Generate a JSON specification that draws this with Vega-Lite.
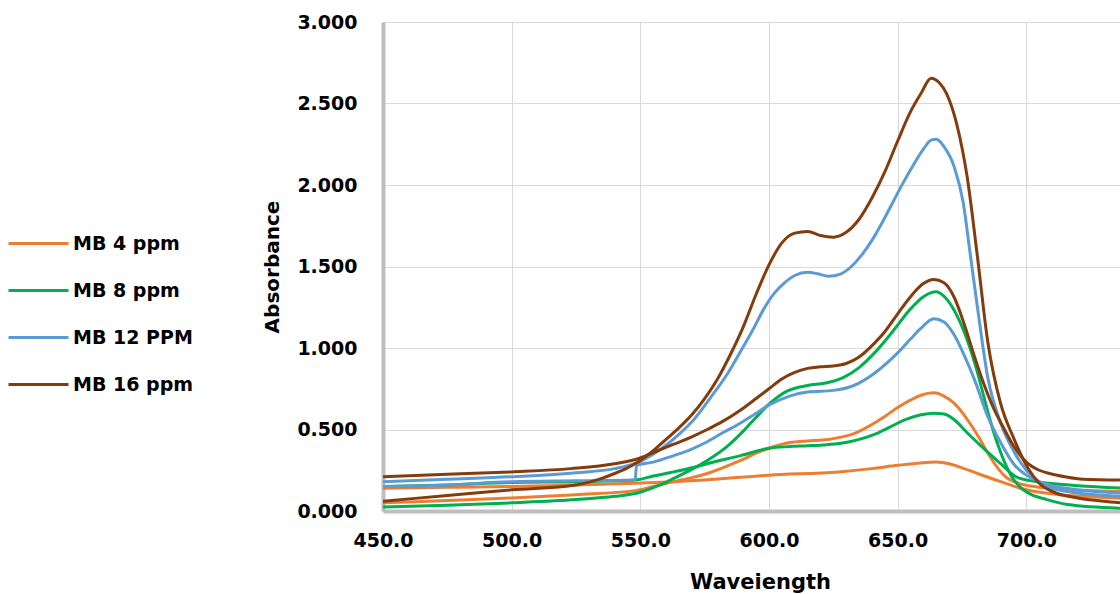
{
  "$schema": "https://vega.github.io/schema/vega-lite/v6.json",
  "width": 737,
  "height": 489,
  "autosize": {"type": "none"},
  "padding": {"left": 383, "top": 22, "right": 0, "bottom": 83},
  "background": "white",
  "config": {
    "view": {"stroke": "#d9d9d9", "strokeWidth": 1},
    "font": "DejaVu Sans"
  },
  "datasets": {
    "spectra": [
      {"s":"MB 4 ppm","r":"a","w":450,"a":0.05},{"s":"MB 4 ppm","r":"a","w":475,"a":0.065},{"s":"MB 4 ppm","r":"a","w":500,"a":0.08},{"s":"MB 4 ppm","r":"a","w":525,"a":0.10},{"s":"MB 4 ppm","r":"a","w":548,"a":0.125},{"s":"MB 4 ppm","r":"a","w":555,"a":0.15},{"s":"MB 4 ppm","r":"a","w":563,"a":0.18},{"s":"MB 4 ppm","r":"a","w":570,"a":0.205},{"s":"MB 4 ppm","r":"a","w":576,"a":0.23},{"s":"MB 4 ppm","r":"a","w":582,"a":0.265},{"s":"MB 4 ppm","r":"a","w":589,"a":0.31},{"s":"MB 4 ppm","r":"a","w":595,"a":0.355},{"s":"MB 4 ppm","r":"a","w":600,"a":0.385},{"s":"MB 4 ppm","r":"a","w":608,"a":0.42},{"s":"MB 4 ppm","r":"a","w":615,"a":0.43},{"s":"MB 4 ppm","r":"a","w":621,"a":0.435},{"s":"MB 4 ppm","r":"a","w":627,"a":0.45},{"s":"MB 4 ppm","r":"a","w":633,"a":0.475},{"s":"MB 4 ppm","r":"a","w":641,"a":0.54},{"s":"MB 4 ppm","r":"a","w":645,"a":0.58},{"s":"MB 4 ppm","r":"a","w":650,"a":0.635},{"s":"MB 4 ppm","r":"a","w":655,"a":0.68},{"s":"MB 4 ppm","r":"a","w":659,"a":0.71},{"s":"MB 4 ppm","r":"a","w":664,"a":0.725},{"s":"MB 4 ppm","r":"a","w":668,"a":0.705},{"s":"MB 4 ppm","r":"a","w":672,"a":0.66},{"s":"MB 4 ppm","r":"a","w":678,"a":0.54},{"s":"MB 4 ppm","r":"a","w":682,"a":0.44},{"s":"MB 4 ppm","r":"a","w":686,"a":0.33},{"s":"MB 4 ppm","r":"a","w":692,"a":0.21},{"s":"MB 4 ppm","r":"a","w":697,"a":0.17},{"s":"MB 4 ppm","r":"a","w":703,"a":0.15},{"s":"MB 4 ppm","r":"a","w":715,"a":0.13},{"s":"MB 4 ppm","r":"a","w":725,"a":0.125},{"s":"MB 4 ppm","r":"a","w":737,"a":0.12},

      {"s":"MB 4 ppm","r":"b","w":450,"a":0.14},{"s":"MB 4 ppm","r":"b","w":475,"a":0.145},{"s":"MB 4 ppm","r":"b","w":500,"a":0.15},{"s":"MB 4 ppm","r":"b","w":525,"a":0.16},{"s":"MB 4 ppm","r":"b","w":548,"a":0.17},{"s":"MB 4 ppm","r":"b","w":575,"a":0.19},{"s":"MB 4 ppm","r":"b","w":600,"a":0.22},{"s":"MB 4 ppm","r":"b","w":627,"a":0.24},{"s":"MB 4 ppm","r":"b","w":640,"a":0.26},{"s":"MB 4 ppm","r":"b","w":650,"a":0.28},{"s":"MB 4 ppm","r":"b","w":659,"a":0.295},{"s":"MB 4 ppm","r":"b","w":665,"a":0.30},{"s":"MB 4 ppm","r":"b","w":670,"a":0.29},{"s":"MB 4 ppm","r":"b","w":675,"a":0.265},{"s":"MB 4 ppm","r":"b","w":681,"a":0.23},{"s":"MB 4 ppm","r":"b","w":690,"a":0.18},{"s":"MB 4 ppm","r":"b","w":700,"a":0.13},{"s":"MB 4 ppm","r":"b","w":713,"a":0.10},{"s":"MB 4 ppm","r":"b","w":725,"a":0.088},{"s":"MB 4 ppm","r":"b","w":737,"a":0.078},

      {"s":"MB 8 ppm","r":"a","w":450,"a":0.025},{"s":"MB 8 ppm","r":"a","w":475,"a":0.035},{"s":"MB 8 ppm","r":"a","w":500,"a":0.05},{"s":"MB 8 ppm","r":"a","w":525,"a":0.07},{"s":"MB 8 ppm","r":"a","w":540,"a":0.09},{"s":"MB 8 ppm","r":"a","w":550,"a":0.115},{"s":"MB 8 ppm","r":"a","w":557,"a":0.155},{"s":"MB 8 ppm","r":"a","w":563,"a":0.20},{"s":"MB 8 ppm","r":"a","w":570,"a":0.255},{"s":"MB 8 ppm","r":"a","w":576,"a":0.31},{"s":"MB 8 ppm","r":"a","w":584,"a":0.40},{"s":"MB 8 ppm","r":"a","w":590,"a":0.49},{"s":"MB 8 ppm","r":"a","w":595,"a":0.575},{"s":"MB 8 ppm","r":"a","w":600,"a":0.655},{"s":"MB 8 ppm","r":"a","w":607,"a":0.735},{"s":"MB 8 ppm","r":"a","w":615,"a":0.77},{"s":"MB 8 ppm","r":"a","w":622,"a":0.785},{"s":"MB 8 ppm","r":"a","w":629,"a":0.82},{"s":"MB 8 ppm","r":"a","w":635,"a":0.88},{"s":"MB 8 ppm","r":"a","w":641,"a":0.97},{"s":"MB 8 ppm","r":"a","w":648,"a":1.10},{"s":"MB 8 ppm","r":"a","w":655,"a":1.24},{"s":"MB 8 ppm","r":"a","w":660,"a":1.315},{"s":"MB 8 ppm","r":"a","w":665,"a":1.345},{"s":"MB 8 ppm","r":"a","w":669,"a":1.30},{"s":"MB 8 ppm","r":"a","w":673,"a":1.20},{"s":"MB 8 ppm","r":"a","w":677,"a":1.05},{"s":"MB 8 ppm","r":"a","w":681,"a":0.85},{"s":"MB 8 ppm","r":"a","w":684,"a":0.67},{"s":"MB 8 ppm","r":"a","w":687,"a":0.50},{"s":"MB 8 ppm","r":"a","w":690,"a":0.36},{"s":"MB 8 ppm","r":"a","w":694,"a":0.22},{"s":"MB 8 ppm","r":"a","w":698,"a":0.14},{"s":"MB 8 ppm","r":"a","w":702,"a":0.10},{"s":"MB 8 ppm","r":"a","w":708,"a":0.07},{"s":"MB 8 ppm","r":"a","w":716,"a":0.04},{"s":"MB 8 ppm","r":"a","w":737,"a":0.017},

      {"s":"MB 8 ppm","r":"b","w":450,"a":0.15},{"s":"MB 8 ppm","r":"b","w":475,"a":0.16},{"s":"MB 8 ppm","r":"b","w":500,"a":0.175},{"s":"MB 8 ppm","r":"b","w":525,"a":0.18},{"s":"MB 8 ppm","r":"b","w":548,"a":0.19},{"s":"MB 8 ppm","r":"b","w":555,"a":0.215},{"s":"MB 8 ppm","r":"b","w":563,"a":0.24},{"s":"MB 8 ppm","r":"b","w":570,"a":0.265},{"s":"MB 8 ppm","r":"b","w":576,"a":0.29},{"s":"MB 8 ppm","r":"b","w":589,"a":0.34},{"s":"MB 8 ppm","r":"b","w":600,"a":0.385},{"s":"MB 8 ppm","r":"b","w":608,"a":0.395},{"s":"MB 8 ppm","r":"b","w":615,"a":0.40},{"s":"MB 8 ppm","r":"b","w":621,"a":0.405},{"s":"MB 8 ppm","r":"b","w":628,"a":0.415},{"s":"MB 8 ppm","r":"b","w":634,"a":0.435},{"s":"MB 8 ppm","r":"b","w":641,"a":0.47},{"s":"MB 8 ppm","r":"b","w":647,"a":0.515},{"s":"MB 8 ppm","r":"b","w":653,"a":0.56},{"s":"MB 8 ppm","r":"b","w":659,"a":0.59},{"s":"MB 8 ppm","r":"b","w":664,"a":0.60},{"s":"MB 8 ppm","r":"b","w":668,"a":0.595},{"s":"MB 8 ppm","r":"b","w":672,"a":0.56},{"s":"MB 8 ppm","r":"b","w":677,"a":0.48},{"s":"MB 8 ppm","r":"b","w":683,"a":0.39},{"s":"MB 8 ppm","r":"b","w":690,"a":0.29},{"s":"MB 8 ppm","r":"b","w":696,"a":0.21},{"s":"MB 8 ppm","r":"b","w":702,"a":0.185},{"s":"MB 8 ppm","r":"b","w":709,"a":0.17},{"s":"MB 8 ppm","r":"b","w":720,"a":0.155},{"s":"MB 8 ppm","r":"b","w":737,"a":0.14},

      {"s":"MB 12 PPM","r":"a","w":450,"a":0.18},{"s":"MB 12 PPM","r":"a","w":475,"a":0.195},{"s":"MB 12 PPM","r":"a","w":500,"a":0.21},{"s":"MB 12 PPM","r":"a","w":525,"a":0.235},{"s":"MB 12 PPM","r":"a","w":540,"a":0.26},{"s":"MB 12 PPM","r":"a","w":550,"a":0.305},{"s":"MB 12 PPM","r":"a","w":558,"a":0.38},{"s":"MB 12 PPM","r":"a","w":565,"a":0.47},{"s":"MB 12 PPM","r":"a","w":571,"a":0.565},{"s":"MB 12 PPM","r":"a","w":577,"a":0.69},{"s":"MB 12 PPM","r":"a","w":584,"a":0.845},{"s":"MB 12 PPM","r":"a","w":589,"a":0.98},{"s":"MB 12 PPM","r":"a","w":594,"a":1.12},{"s":"MB 12 PPM","r":"a","w":598,"a":1.24},{"s":"MB 12 PPM","r":"a","w":602,"a":1.335},{"s":"MB 12 PPM","r":"a","w":606,"a":1.40},{"s":"MB 12 PPM","r":"a","w":610,"a":1.445},{"s":"MB 12 PPM","r":"a","w":615,"a":1.465},{"s":"MB 12 PPM","r":"a","w":619,"a":1.455},{"s":"MB 12 PPM","r":"a","w":623,"a":1.44},{"s":"MB 12 PPM","r":"a","w":628,"a":1.455},{"s":"MB 12 PPM","r":"a","w":632,"a":1.50},{"s":"MB 12 PPM","r":"a","w":636,"a":1.57},{"s":"MB 12 PPM","r":"a","w":640,"a":1.66},{"s":"MB 12 PPM","r":"a","w":644,"a":1.77},{"s":"MB 12 PPM","r":"a","w":648,"a":1.89},{"s":"MB 12 PPM","r":"a","w":652,"a":2.01},{"s":"MB 12 PPM","r":"a","w":656,"a":2.12},{"s":"MB 12 PPM","r":"a","w":660,"a":2.22},{"s":"MB 12 PPM","r":"a","w":663,"a":2.275},{"s":"MB 12 PPM","r":"a","w":665,"a":2.28},{"s":"MB 12 PPM","r":"a","w":668,"a":2.235},{"s":"MB 12 PPM","r":"a","w":672,"a":2.11},{"s":"MB 12 PPM","r":"a","w":675.5,"a":1.89},{"s":"MB 12 PPM","r":"a","w":678,"a":1.60},{"s":"MB 12 PPM","r":"a","w":681,"a":1.25},{"s":"MB 12 PPM","r":"a","w":685,"a":0.82},{"s":"MB 12 PPM","r":"a","w":690,"a":0.54},{"s":"MB 12 PPM","r":"a","w":695,"a":0.37},{"s":"MB 12 PPM","r":"a","w":700,"a":0.25},{"s":"MB 12 PPM","r":"a","w":705,"a":0.18},{"s":"MB 12 PPM","r":"a","w":710,"a":0.14},{"s":"MB 12 PPM","r":"a","w":720,"a":0.11},{"s":"MB 12 PPM","r":"a","w":737,"a":0.09},

      {"s":"MB 12 PPM","r":"b","w":450,"a":0.15},{"s":"MB 12 PPM","r":"b","w":475,"a":0.16},{"s":"MB 12 PPM","r":"b","w":500,"a":0.18},{"s":"MB 12 PPM","r":"b","w":525,"a":0.185},{"s":"MB 12 PPM","r":"b","w":548,"a":0.19},{"s":"MB 12 PPM","r":"b","w":548.5,"a":0.28},{"s":"MB 12 PPM","r":"b","w":555,"a":0.30},{"s":"MB 12 PPM","r":"b","w":563,"a":0.34},{"s":"MB 12 PPM","r":"b","w":570,"a":0.38},{"s":"MB 12 PPM","r":"b","w":576,"a":0.425},{"s":"MB 12 PPM","r":"b","w":582,"a":0.48},{"s":"MB 12 PPM","r":"b","w":589,"a":0.54},{"s":"MB 12 PPM","r":"b","w":595,"a":0.60},{"s":"MB 12 PPM","r":"b","w":600,"a":0.65},{"s":"MB 12 PPM","r":"b","w":608,"a":0.705},{"s":"MB 12 PPM","r":"b","w":615,"a":0.73},{"s":"MB 12 PPM","r":"b","w":625,"a":0.74},{"s":"MB 12 PPM","r":"b","w":633,"a":0.77},{"s":"MB 12 PPM","r":"b","w":641,"a":0.845},{"s":"MB 12 PPM","r":"b","w":646,"a":0.91},{"s":"MB 12 PPM","r":"b","w":650,"a":0.97},{"s":"MB 12 PPM","r":"b","w":655,"a":1.055},{"s":"MB 12 PPM","r":"b","w":659,"a":1.12},{"s":"MB 12 PPM","r":"b","w":664,"a":1.18},{"s":"MB 12 PPM","r":"b","w":668,"a":1.16},{"s":"MB 12 PPM","r":"b","w":672,"a":1.08},{"s":"MB 12 PPM","r":"b","w":676,"a":0.95},{"s":"MB 12 PPM","r":"b","w":680,"a":0.80},{"s":"MB 12 PPM","r":"b","w":685,"a":0.58},{"s":"MB 12 PPM","r":"b","w":690,"a":0.42},{"s":"MB 12 PPM","r":"b","w":695,"a":0.29},{"s":"MB 12 PPM","r":"b","w":700,"a":0.22},{"s":"MB 12 PPM","r":"b","w":705,"a":0.18},{"s":"MB 12 PPM","r":"b","w":710,"a":0.155},{"s":"MB 12 PPM","r":"b","w":720,"a":0.13},{"s":"MB 12 PPM","r":"b","w":737,"a":0.11},

      {"s":"MB 16 ppm","r":"a","w":450,"a":0.06},{"s":"MB 16 ppm","r":"a","w":475,"a":0.095},{"s":"MB 16 ppm","r":"a","w":500,"a":0.13},{"s":"MB 16 ppm","r":"a","w":525,"a":0.16},{"s":"MB 16 ppm","r":"a","w":535,"a":0.20},{"s":"MB 16 ppm","r":"a","w":540,"a":0.23},{"s":"MB 16 ppm","r":"a","w":545,"a":0.265},{"s":"MB 16 ppm","r":"a","w":550,"a":0.31},{"s":"MB 16 ppm","r":"a","w":555,"a":0.37},{"s":"MB 16 ppm","r":"a","w":560,"a":0.44},{"s":"MB 16 ppm","r":"a","w":565,"a":0.51},{"s":"MB 16 ppm","r":"a","w":570,"a":0.59},{"s":"MB 16 ppm","r":"a","w":575,"a":0.69},{"s":"MB 16 ppm","r":"a","w":580,"a":0.81},{"s":"MB 16 ppm","r":"a","w":585,"a":0.96},{"s":"MB 16 ppm","r":"a","w":590,"a":1.13},{"s":"MB 16 ppm","r":"a","w":595,"a":1.33},{"s":"MB 16 ppm","r":"a","w":600,"a":1.51},{"s":"MB 16 ppm","r":"a","w":605,"a":1.645},{"s":"MB 16 ppm","r":"a","w":610,"a":1.705},{"s":"MB 16 ppm","r":"a","w":615,"a":1.715},{"s":"MB 16 ppm","r":"a","w":620,"a":1.69},{"s":"MB 16 ppm","r":"a","w":625,"a":1.68},{"s":"MB 16 ppm","r":"a","w":630,"a":1.71},{"s":"MB 16 ppm","r":"a","w":635,"a":1.79},{"s":"MB 16 ppm","r":"a","w":640,"a":1.92},{"s":"MB 16 ppm","r":"a","w":645,"a":2.08},{"s":"MB 16 ppm","r":"a","w":650,"a":2.27},{"s":"MB 16 ppm","r":"a","w":655,"a":2.45},{"s":"MB 16 ppm","r":"a","w":659,"a":2.56},{"s":"MB 16 ppm","r":"a","w":663,"a":2.655},{"s":"MB 16 ppm","r":"a","w":666,"a":2.63},{"s":"MB 16 ppm","r":"a","w":669,"a":2.56},{"s":"MB 16 ppm","r":"a","w":673,"a":2.37},{"s":"MB 16 ppm","r":"a","w":677,"a":2.05},{"s":"MB 16 ppm","r":"a","w":681,"a":1.56},{"s":"MB 16 ppm","r":"a","w":685,"a":1.04},{"s":"MB 16 ppm","r":"a","w":690,"a":0.66},{"s":"MB 16 ppm","r":"a","w":695,"a":0.45},{"s":"MB 16 ppm","r":"a","w":700,"a":0.28},{"s":"MB 16 ppm","r":"a","w":705,"a":0.17},{"s":"MB 16 ppm","r":"a","w":710,"a":0.12},{"s":"MB 16 ppm","r":"a","w":720,"a":0.08},{"s":"MB 16 ppm","r":"a","w":730,"a":0.06},{"s":"MB 16 ppm","r":"a","w":737,"a":0.05},

      {"s":"MB 16 ppm","r":"b","w":450,"a":0.21},{"s":"MB 16 ppm","r":"b","w":475,"a":0.225},{"s":"MB 16 ppm","r":"b","w":500,"a":0.24},{"s":"MB 16 ppm","r":"b","w":523,"a":0.26},{"s":"MB 16 ppm","r":"b","w":540,"a":0.29},{"s":"MB 16 ppm","r":"b","w":550,"a":0.325},{"s":"MB 16 ppm","r":"b","w":556,"a":0.365},{"s":"MB 16 ppm","r":"b","w":563,"a":0.41},{"s":"MB 16 ppm","r":"b","w":570,"a":0.455},{"s":"MB 16 ppm","r":"b","w":576,"a":0.50},{"s":"MB 16 ppm","r":"b","w":582,"a":0.55},{"s":"MB 16 ppm","r":"b","w":589,"a":0.62},{"s":"MB 16 ppm","r":"b","w":595,"a":0.69},{"s":"MB 16 ppm","r":"b","w":600,"a":0.75},{"s":"MB 16 ppm","r":"b","w":605,"a":0.81},{"s":"MB 16 ppm","r":"b","w":610,"a":0.85},{"s":"MB 16 ppm","r":"b","w":615,"a":0.875},{"s":"MB 16 ppm","r":"b","w":620,"a":0.885},{"s":"MB 16 ppm","r":"b","w":625,"a":0.89},{"s":"MB 16 ppm","r":"b","w":630,"a":0.905},{"s":"MB 16 ppm","r":"b","w":635,"a":0.945},{"s":"MB 16 ppm","r":"b","w":641,"a":1.03},{"s":"MB 16 ppm","r":"b","w":645,"a":1.10},{"s":"MB 16 ppm","r":"b","w":650,"a":1.21},{"s":"MB 16 ppm","r":"b","w":655,"a":1.315},{"s":"MB 16 ppm","r":"b","w":660,"a":1.395},{"s":"MB 16 ppm","r":"b","w":664,"a":1.42},{"s":"MB 16 ppm","r":"b","w":668,"a":1.40},{"s":"MB 16 ppm","r":"b","w":672,"a":1.31},{"s":"MB 16 ppm","r":"b","w":676,"a":1.14},{"s":"MB 16 ppm","r":"b","w":680,"a":0.94},{"s":"MB 16 ppm","r":"b","w":683,"a":0.80},{"s":"MB 16 ppm","r":"b","w":687,"a":0.64},{"s":"MB 16 ppm","r":"b","w":691,"a":0.515},{"s":"MB 16 ppm","r":"b","w":695,"a":0.40},{"s":"MB 16 ppm","r":"b","w":700,"a":0.30},{"s":"MB 16 ppm","r":"b","w":705,"a":0.25},{"s":"MB 16 ppm","r":"b","w":709,"a":0.23},{"s":"MB 16 ppm","r":"b","w":715,"a":0.21},{"s":"MB 16 ppm","r":"b","w":722,"a":0.195},{"s":"MB 16 ppm","r":"b","w":737,"a":0.19}
    ]
  },
  "data": {"name": "spectra"},
  "mark": {"type": "line", "interpolate": "monotone", "strokeWidth": 3, "clip": true, "strokeCap": "round"},
  "encoding": {
    "x": {
      "field": "w",
      "type": "quantitative",
      "title": "Waveiength",
      "scale": {"domain": [450, 736.4], "nice": false, "zero": false},
      "axis": {
        "values": [450, 500, 550, 600, 650, 700],
        "format": ".1f",
        "ticks": false,
        "grid": true,
        "gridColor": "#d9d9d9",
        "gridWidth": 1,
        "domainColor": "#bfbfbf",
        "domainWidth": 4,
        "labelFont": "DejaVu Sans",
        "labelFontWeight": "bold",
        "labelFontSize": 19,
        "labelColor": "#000000",
        "labelPadding": 20,
        "labelFlush": false,
        "titleFont": "DejaVu Sans",
        "titleFontWeight": "bold",
        "titleFontSize": 21,
        "titleColor": "#000000",
        "titleX": 377,
        "titleY": 77,
        "titleAlign": "center",
        "titleBaseline": "alphabetic"
      }
    },
    "y": {
      "field": "a",
      "type": "quantitative",
      "title": "Absorbance",
      "scale": {"domain": [0, 3], "nice": false},
      "axis": {
        "values": [0, 0.5, 1, 1.5, 2, 2.5, 3],
        "format": ".3f",
        "ticks": false,
        "grid": true,
        "gridColor": "#d9d9d9",
        "gridWidth": 1,
        "domainColor": "#bfbfbf",
        "domainWidth": 4,
        "labelFont": "DejaVu Sans",
        "labelFontWeight": "bold",
        "labelFontSize": 19,
        "labelColor": "#000000",
        "labelPadding": 26,
        "labelFlush": false,
        "titleFont": "DejaVu Sans",
        "titleFontWeight": "bold",
        "titleFontSize": 20,
        "titleColor": "#000000",
        "titleAngle": -90,
        "titleX": -111,
        "titleY": 244.5,
        "titleAlign": "center",
        "titleBaseline": "middle"
      }
    },
    "color": {
      "field": "s",
      "type": "nominal",
      "sort": ["MB 4 ppm", "MB 8 ppm", "MB 12 PPM", "MB 16 ppm"],
      "scale": {
        "domain": ["MB 4 ppm", "MB 8 ppm", "MB 12 PPM", "MB 16 ppm"],
        "range": ["#ED7D31", "#00B050", "#5B9BD5", "#843C0C"]
      },
      "legend": {
        "title": null,
        "orient": "none",
        "legendX": -376,
        "legendY": 190,
        "symbolType": "stroke",
        "symbolSize": 3600,
        "symbolStrokeWidth": 3,
        "labelFont": "DejaVu Sans",
        "labelFontWeight": "bold",
        "labelFontSize": 19,
        "labelColor": "#000000",
        "labelOffset": 3,
        "rowPadding": 5
      }
    },
    "detail": {"field": "r", "type": "nominal"}
  }
}
